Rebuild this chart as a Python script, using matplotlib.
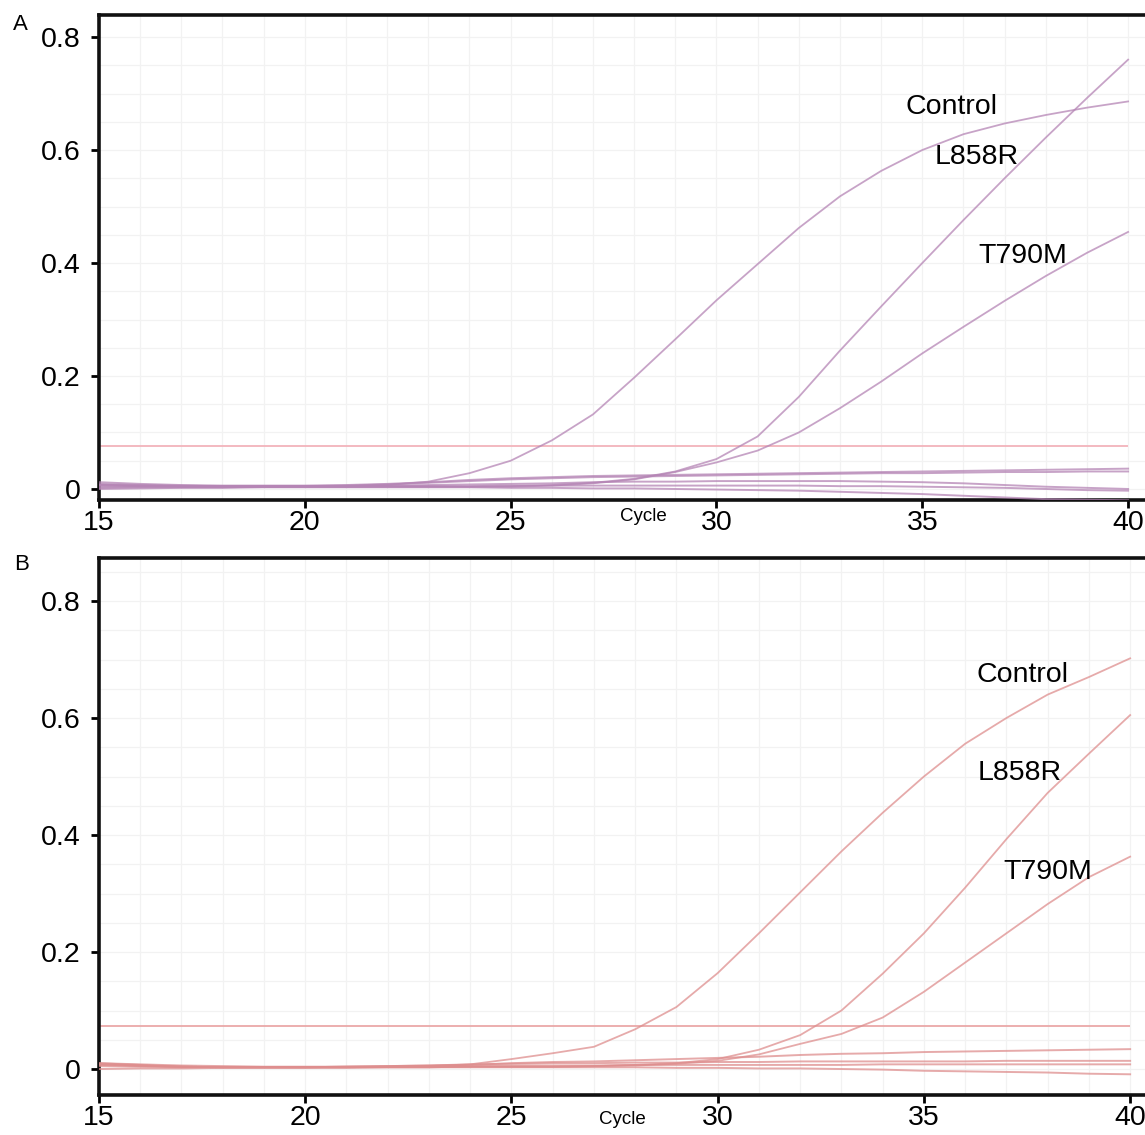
import numpy as np
import matplotlib
matplotlib.use("Agg")
import matplotlib.pyplot as plt

plt.rcParams['font.family'] = ['Liberation Sans', 'DejaVu Sans']

cycles = list(range(15, 41))

# ---- panel A (purple) ----
a_control = [0.009, 0.007, 0.006, 0.005, 0.005, 0.005, 0.005, 0.007, 0.013, 0.028,
             0.050, 0.086, 0.132, 0.197, 0.265, 0.334, 0.398, 0.462, 0.518, 0.563,
             0.600, 0.628, 0.647, 0.662, 0.675, 0.686]
a_l858r = [0.008, 0.006, 0.005, 0.004, 0.004, 0.004, 0.004, 0.004, 0.004, 0.004,
           0.005, 0.007, 0.011, 0.018, 0.031, 0.053, 0.093, 0.163, 0.245, 0.323,
           0.400, 0.476, 0.550, 0.622, 0.692, 0.760]
a_t790m = [0.007, 0.006, 0.005, 0.004, 0.004, 0.004, 0.004, 0.004, 0.004, 0.004,
           0.004, 0.006, 0.010, 0.017, 0.030, 0.047, 0.068, 0.100, 0.143, 0.190,
           0.240, 0.287, 0.333, 0.377, 0.418, 0.455]
a_baselines = [
    [0.012, 0.009, 0.007, 0.006, 0.006, 0.006, 0.007, 0.009, 0.012, 0.016,
     0.019, 0.021, 0.023, 0.024, 0.025, 0.026, 0.027, 0.028, 0.029, 0.030,
     0.031, 0.032, 0.033, 0.034, 0.035, 0.036],
    [0.006, 0.005, 0.005, 0.005, 0.005, 0.005, 0.006, 0.008, 0.011, 0.014,
     0.017, 0.019, 0.021, 0.022, 0.023, 0.024, 0.025, 0.026, 0.027, 0.028,
     0.028, 0.029, 0.030, 0.030, 0.031, 0.031],
    [0.004, 0.004, 0.004, 0.004, 0.004, 0.005, 0.005, 0.006, 0.007, 0.008,
     0.009, 0.010, 0.012, 0.013, 0.013, 0.014, 0.014, 0.014, 0.014, 0.013,
     0.012, 0.010, 0.007, 0.004, 0.002, 0.000],
    [0.002, 0.003, 0.003, 0.003, 0.004, 0.004, 0.004, 0.005, 0.005, 0.005,
     0.006, 0.006, 0.006, 0.006, 0.006, 0.006, 0.006, 0.006, 0.005, 0.005,
     0.004, 0.003, 0.002, 0.000, -0.002, -0.003],
    [0.000, 0.001, 0.002, 0.002, 0.003, 0.003, 0.003, 0.003, 0.003, 0.003,
     0.002, 0.002, 0.001, 0.001, 0.000, -0.001, -0.002, -0.003, -0.005, -0.007,
     -0.009, -0.012, -0.015, -0.018, -0.019, -0.020],
]
a_threshold = 0.076

# ---- panel B (red) ----
b_control = [0.010, 0.007, 0.004, 0.003, 0.003, 0.003, 0.003, 0.004, 0.005, 0.008,
             0.017, 0.027, 0.038, 0.068, 0.106, 0.164, 0.232, 0.302, 0.372, 0.438,
             0.500, 0.556, 0.600, 0.640, 0.670, 0.702]
b_l858r = [0.008, 0.006, 0.004, 0.003, 0.003, 0.003, 0.003, 0.003, 0.003, 0.004,
           0.004, 0.004, 0.005, 0.007, 0.010, 0.017, 0.033, 0.058, 0.100, 0.163,
           0.232, 0.310, 0.393, 0.472, 0.539, 0.605]
b_t790m = [0.007, 0.005, 0.004, 0.003, 0.003, 0.003, 0.003, 0.003, 0.003, 0.004,
           0.004, 0.004, 0.005, 0.006, 0.009, 0.014, 0.025, 0.043, 0.060, 0.088,
           0.132, 0.182, 0.232, 0.282, 0.328, 0.363]
b_baselines = [
    [0.010, 0.008, 0.006, 0.005, 0.004, 0.004, 0.004, 0.005, 0.006, 0.007,
     0.010, 0.012, 0.013, 0.015, 0.017, 0.019, 0.021, 0.024, 0.026, 0.027,
     0.029, 0.030, 0.031, 0.032, 0.033, 0.034],
    [0.008, 0.006, 0.004, 0.003, 0.003, 0.003, 0.004, 0.005, 0.006, 0.008,
     0.009, 0.010, 0.010, 0.011, 0.011, 0.012, 0.012, 0.013, 0.013, 0.013,
     0.013, 0.013, 0.014, 0.014, 0.014, 0.014],
    [0.005, 0.004, 0.003, 0.003, 0.003, 0.003, 0.004, 0.004, 0.005, 0.005,
     0.006, 0.006, 0.006, 0.007, 0.007, 0.007, 0.007, 0.007, 0.007, 0.008,
     0.008, 0.008, 0.008, 0.008, 0.008, 0.008],
    [0.000, 0.001, 0.001, 0.002, 0.002, 0.002, 0.002, 0.003, 0.003, 0.003,
     0.003, 0.003, 0.003, 0.003, 0.002, 0.002, 0.001, 0.001, 0.000, -0.001,
     -0.003, -0.004, -0.005, -0.006, -0.008, -0.009],
]
b_threshold = 0.073

labels = ["Control", "L858R", "T790M"]
a_label_pos = [(35.7, 0.676), (36.33, 0.588), (37.43, 0.412)]
b_label_pos = [(37.38, 0.673), (37.31, 0.506), (38.0, 0.337)]

x_ticks = [15, 20, 25, 30, 35, 40]
y_ticks = [0, 0.2, 0.4, 0.6, 0.8]
y_tick_labels = ["0", "0.2", "0.4", "0.6", "0.8"]

W, H = 1145, 1135
fig = plt.figure(figsize=(W / 100, H / 100), dpi=100)


def make_axes(top_px, bottom_px, ylim, xlim):
    ax = fig.add_axes([99 / W, 1 - bottom_px / H, 1 - 99 / W, (bottom_px - top_px) / H])
    ax.set_xticks(x_ticks)
    ax.set_xticks(np.arange(15, 41, 1), minor=True)
    ax.set_yticks(y_ticks)
    ax.set_yticklabels(y_tick_labels)
    ax.set_yticks(np.arange(0, 0.9, 0.05), minor=True)
    ax.set_xlim(*xlim)
    ax.set_ylim(*ylim)
    ax.grid(True, which="both", color="#f2f2f2", lw=0.9, zorder=0)
    ax.tick_params(which="minor", length=0)
    ax.tick_params(which="major", direction="out", length=6, width=2,
                   labelsize=20.5, colors="black")
    ax.tick_params(axis="x", pad=1)
    ax.tick_params(axis="y", pad=7)
    for s in ["left", "top", "bottom"]:
        ax.spines[s].set_linewidth(2.6)
        ax.spines[s].set_color("#111111")
    ax.spines["right"].set_visible(False)
    return ax


def draw_panel(ax, curves, baselines, thr, color, thr_color, label_pos):
    ax.hlines(thr, cycles[0], cycles[-1], color=thr_color, lw=1.3, zorder=2)
    for b in baselines:
        ax.plot(cycles, b, color=color, lw=1.4, alpha=0.75, zorder=3)
    for c in curves:
        ax.plot(cycles, c, color=color, lw=1.3, alpha=0.75, zorder=3)
    for lab, (x, y) in zip(labels, label_pos):
        ax.text(x, y, lab, fontsize=20.5, ha="center", va="center", zorder=4)


ax_a = make_axes(15, 500, (-0.0195, 0.839), (15, 40.41))
draw_panel(ax_a, [a_control, a_l858r, a_t790m], a_baselines, a_threshold,
           "#b585b5", "#f2b3bb", a_label_pos)

ax_b = make_axes(558, 1095, (-0.0444, 0.8735), (15, 40.36))
draw_panel(ax_b, [b_control, b_l858r, b_t790m], b_baselines, b_threshold,
           "#de8e8e", "#eaa8a8", b_label_pos)

fig.text(643 / W, 1 - 516 / H, "Cycle", fontsize=13.5, ha="center", va="center")
fig.text(622 / W, 1 - 1120 / H, "Cycle", fontsize=13.5, ha="center", va="center")
fig.text(20 / W, 1 - 25 / H, "A", fontsize=16, ha="center", va="center")
fig.text(22 / W, 1 - 565 / H, "B", fontsize=16, ha="center", va="center")

fig.savefig("out.png", dpi=100)
